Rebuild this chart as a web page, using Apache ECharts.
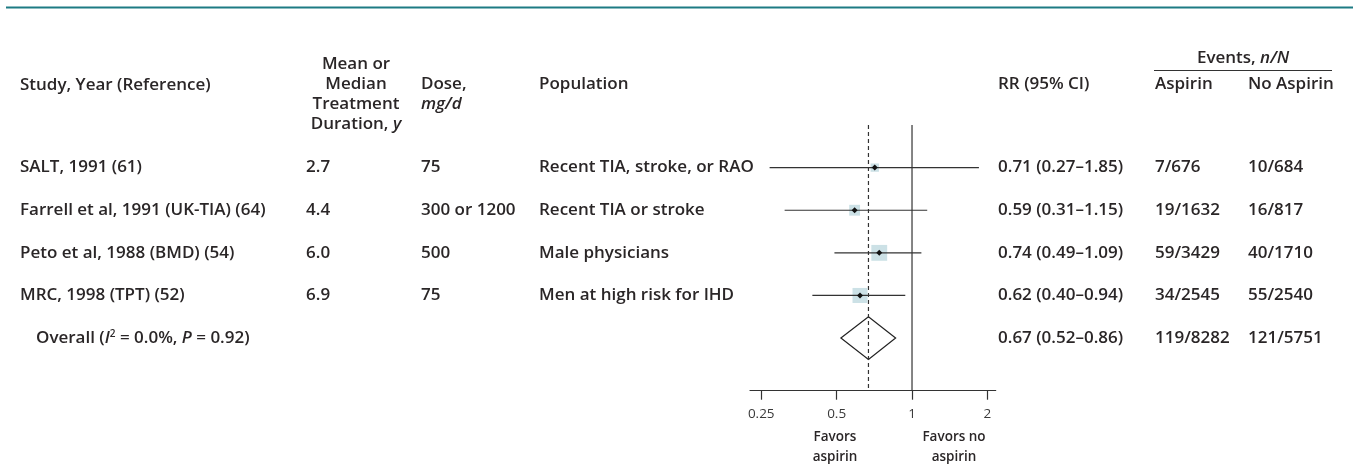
<!DOCTYPE html>
<html><head><meta charset="utf-8">
<script src="https://cdn.jsdelivr.net/npm/echarts@6/dist/echarts.min.js"></script>
<style>html,body{margin:0;padding:0;background:#fff}#c{width:1353px;height:476px}</style>
</head><body><div id="c"></div>
<script>
// ---------------- data ----------------
const studies = ['SALT, 1991 (61)', 'Farrell et al, 1991 (UK-TIA) (64)', 'Peto et al, 1988 (BMD) (54)', 'MRC, 1998 (TPT) (52)'];
const durations = ['2.7', '4.4', '6.0', '6.9'];
const doses = ['75', '300 or 1200', '500', '75'];
const populations = ['Recent TIA, stroke, or RAO', 'Recent TIA or stroke', 'Male physicians', 'Men at high risk for IHD'];
const rr = [0.71, 0.59, 0.74, 0.62];
const ciLow = [0.27, 0.31, 0.49, 0.40];
const ciHigh = [1.85, 1.15, 1.09, 0.94];
const weights = [7.1, 15.4, 41.3, 36.2];
const aspirinEvents = ['7/676', '19/1632', '59/3429', '34/2545'];
const noAspirinEvents = ['10/684', '16/817', '40/1710', '55/2540'];
const overallRR = 0.67, overallLow = 0.52, overallHigh = 0.86;
const overallAspirin = '119/8282', overallNoAspirin = '121/5751';
const overallLabel = 'Overall ({i|I}{sup|2} = 0.0%, {i|P} = 0.92)';
const tickValues = [0.25, 0.5, 1, 2];
const tickLabels = ['0.25', '0.5', '1', '2'];

// ---------------- font choice (semibold if a real face exists) ----------------
function pickFont() {
  const ctx = document.createElement('canvas').getContext('2d');
  const sample = 'Farrell et al, 1991 (UK-TIA) (64) Recent TIA';
  const w = (wt, fam) => { ctx.font = wt + ' 17px ' + fam; return ctx.measureText(sample).width; };
  const fams = ['"Open Sans"', '"Noto Sans"', 'Lato', 'Inter'];
  for (const f of fams.slice(0, 2)) {
    const a = w(400, f), b = w(600, f), c = w(700, f);
    if (Math.abs(b - a) > 0.5 && Math.abs(b - c) > 0.5) return { family: f + ', "Open Sans", sans-serif', weight: 600 };
  }
  return { family: '"Open Sans", "Noto Sans", sans-serif', weight: 'bold' };
}
const PF = pickFont();

// ---------------- layout ----------------
const W = 1353, H = 476;
const FONT = PF.family;
const FW = PF.weight;
const TXT = '#2a2627';
const FS = 17;
const GRID_TOP = 125, GRID_BOTTOM = 85.3;
const Y_MIN = -1, Y_MAX = 5.235;
const COL = { study: 20, duration: 306, dose: 421, population: 539, rr: 998, asp: 1155, noasp: 1248, overall: 36, meanCenter: 356 };
const fmt = v => v.toFixed(2);
const rrText = (e, l, h) => fmt(e) + ' (' + fmt(l) + '\u2013' + fmt(h) + ')';
const L2 = Math.log2;

const textItems = [];
studies.forEach((s, i) => {
  textItems.push({ x: COL.study, row: i, text: s });
  textItems.push({ x: COL.duration, row: i, text: durations[i] });
  textItems.push({ x: COL.dose, row: i, text: doses[i] });
  textItems.push({ x: COL.population, row: i, text: populations[i] });
  textItems.push({ x: COL.rr, row: i, text: rrText(rr[i], ciLow[i], ciHigh[i]) });
  textItems.push({ x: COL.asp, row: i, text: aspirinEvents[i] });
  textItems.push({ x: COL.noasp, row: i, text: noAspirinEvents[i] });
});
const ov = studies.length;
textItems.push({ x: COL.overall, row: ov, text: overallLabel });
textItems.push({ x: COL.rr, row: ov, text: rrText(overallRR, overallLow, overallHigh) });
textItems.push({ x: COL.asp, row: ov, text: overallAspirin });
textItems.push({ x: COL.noasp, row: ov, text: overallNoAspirin });

const richStyles = {
  i: { fontStyle: 'italic', fontSize: FS, fontWeight: FW, fontFamily: FONT, fill: TXT },
  sup: { fontSize: 10, fontWeight: FW, fontFamily: FONT, verticalAlign: 'top', fill: TXT }
};

const studyData = rr.map((v, i) => [i, L2(v), L2(ciLow[i]), L2(ciHigh[i]), weights[i]]);

function headerText(x, y, text, align, size) {
  const fs = size || FS;
  return {
    type: 'text', x: x, y: y,
    style: {
      text: text, fill: TXT,
      fontSize: fs, fontWeight: FW, fontFamily: FONT,
      align: align || 'left', verticalAlign: 'middle',
      rich: {
        i: { fontStyle: 'italic', fontSize: fs, fontWeight: FW, fontFamily: FONT, fill: TXT }
      }
    }
  };
}

const chart = echarts.init(document.getElementById('c'), null, { renderer: 'canvas' });
const tickPos = tickValues.map(L2);
const option = {
  backgroundColor: '#fff',
  animation: false,
  grid: [
    { left: 750, right: W - 995.7, top: GRID_TOP, bottom: GRID_BOTTOM },
    { left: 0, right: 0, top: GRID_TOP, bottom: GRID_BOTTOM }
  ],
  xAxis: [
    {
      type: 'value', gridIndex: 0,
      min: L2(tickValues[0]) - 0.149, max: L2(tickValues[tickValues.length - 1]) + 0.11,
      splitLine: { show: false },
      axisLine: { show: true, onZero: false, lineStyle: { color: '#333', width: 1.2 } },
      axisTick: { show: true, length: 9, customValues: tickPos, lineStyle: { color: '#333', width: 1.2 } },
      axisLabel: {
        show: true, customValues: tickPos, margin: 16,
        color: '#3a3a3a', fontSize: 13.5, fontFamily: '"Open Sans", sans-serif', fontWeight: 400,
        formatter: v => tickLabels[tickPos.findIndex(t => Math.abs(t - v) < 1e-9)] || ''
      }
    },
    { type: 'value', gridIndex: 1, min: 0, max: W, show: false }
  ],
  yAxis: [
    { type: 'value', gridIndex: 0, min: Y_MIN, max: Y_MAX, inverse: true, show: false },
    { type: 'value', gridIndex: 1, min: Y_MIN, max: Y_MAX, inverse: true, show: false }
  ],
  series: [
    {
      type: 'line', xAxisIndex: 0, yAxisIndex: 0, symbol: 'none', silent: true,
      data: [[L2(1), Y_MIN], [L2(1), Y_MAX]],
      lineStyle: { color: '#333', width: 1.2 }
    },
    {
      type: 'line', xAxisIndex: 0, yAxisIndex: 0, symbol: 'none', silent: true, z: 3,
      data: [[L2(overallRR), Y_MIN], [L2(overallRR), Y_MAX]],
      lineStyle: { color: '#333', width: 1.2, type: [4, 3] }
    },
    {
      type: 'custom', xAxisIndex: 0, yAxisIndex: 0, z: 4,
      data: studyData,
      encode: { x: [1, 2, 3], y: 0 },
      renderItem: function (params, api) {
        const row = api.value(0);
        const pE = api.coord([api.value(1), row]);
        const pL = api.coord([api.value(2), row]);
        const pH = api.coord([api.value(3), row]);
        const s = 3 + 2 * Math.sqrt(api.value(4));
        const d = 3;
        return {
          type: 'group',
          children: [
            { type: 'rect', shape: { x: pE[0] - s / 2, y: pE[1] - s / 2, width: s, height: s }, style: { fill: '#cce1e6' } },
            { type: 'line', shape: { x1: pL[0], y1: pL[1], x2: pH[0], y2: pH[1] }, style: { stroke: '#333', lineWidth: 1.2 } },
            { type: 'polygon', shape: { points: [[pE[0] - d, pE[1]], [pE[0], pE[1] - d], [pE[0] + d, pE[1]], [pE[0], pE[1] + d]] }, style: { fill: '#111' } }
          ]
        };
      }
    },
    {
      type: 'custom', xAxisIndex: 0, yAxisIndex: 0, z: 2,
      data: [[ov, L2(overallRR), L2(overallLow), L2(overallHigh)]],
      encode: { x: [1, 2, 3], y: 0 },
      renderItem: function (params, api) {
        const row = api.value(0);
        const pts = [
          api.coord([api.value(2), row]),
          api.coord([api.value(1), row - 0.5]),
          api.coord([api.value(3), row]),
          api.coord([api.value(1), row + 0.5])
        ];
        return { type: 'polygon', shape: { points: pts }, style: { fill: 'none', stroke: '#222', lineWidth: 1.2 } };
      }
    },
    {
      type: 'custom', xAxisIndex: 1, yAxisIndex: 1, z: 5, silent: true,
      data: textItems.map(t => [t.x, t.row]),
      renderItem: function (params, api) {
        const p = api.coord([api.value(0), api.value(1)]);
        const t = textItems[params.dataIndex];
        return {
          type: 'text', x: p[0], y: p[1],
          style: {
            text: t.text, fill: TXT, fontSize: FS, fontWeight: FW, fontFamily: FONT,
            align: 'left', verticalAlign: 'middle', rich: richStyles
          }
        };
      }
    }
  ],
  graphic: [
    { type: 'line', shape: { x1: 6, y1: 7.5, x2: W, y2: 7.5 }, style: { stroke: '#1d7b83', lineWidth: 2 } },
    headerText(COL.study, 85, 'Study, Year (Reference)'),
    headerText(COL.meanCenter, 64, 'Mean or', 'center'),
    headerText(COL.meanCenter, 84, 'Median', 'center'),
    headerText(COL.meanCenter, 104, 'Treatment', 'center'),
    headerText(COL.meanCenter, 124, 'Duration, {i|y}', 'center'),
    headerText(COL.dose, 84, 'Dose,'),
    headerText(COL.dose, 104, '{i|mg/d}'),
    headerText(COL.population, 84, 'Population'),
    headerText(COL.rr, 84, 'RR (95% CI)'),
    headerText(1243, 58, 'Events, {i|n/N}', 'center'),
    { type: 'line', shape: { x1: 1154, y1: 70.5, x2: 1332, y2: 70.5 }, style: { stroke: '#333', lineWidth: 1.2 } },
    headerText(COL.asp, 84, 'Aspirin'),
    headerText(COL.noasp, 84, 'No Aspirin'),
    headerText(835, 437, 'Favors', 'center', 13.5),
    headerText(835, 457, 'aspirin', 'center', 13.5),
    headerText(954, 437, 'Favors no', 'center', 13.5),
    headerText(954, 457, 'aspirin', 'center', 13.5)
  ]
};
chart.setOption(option);
</script>
</body></html>
